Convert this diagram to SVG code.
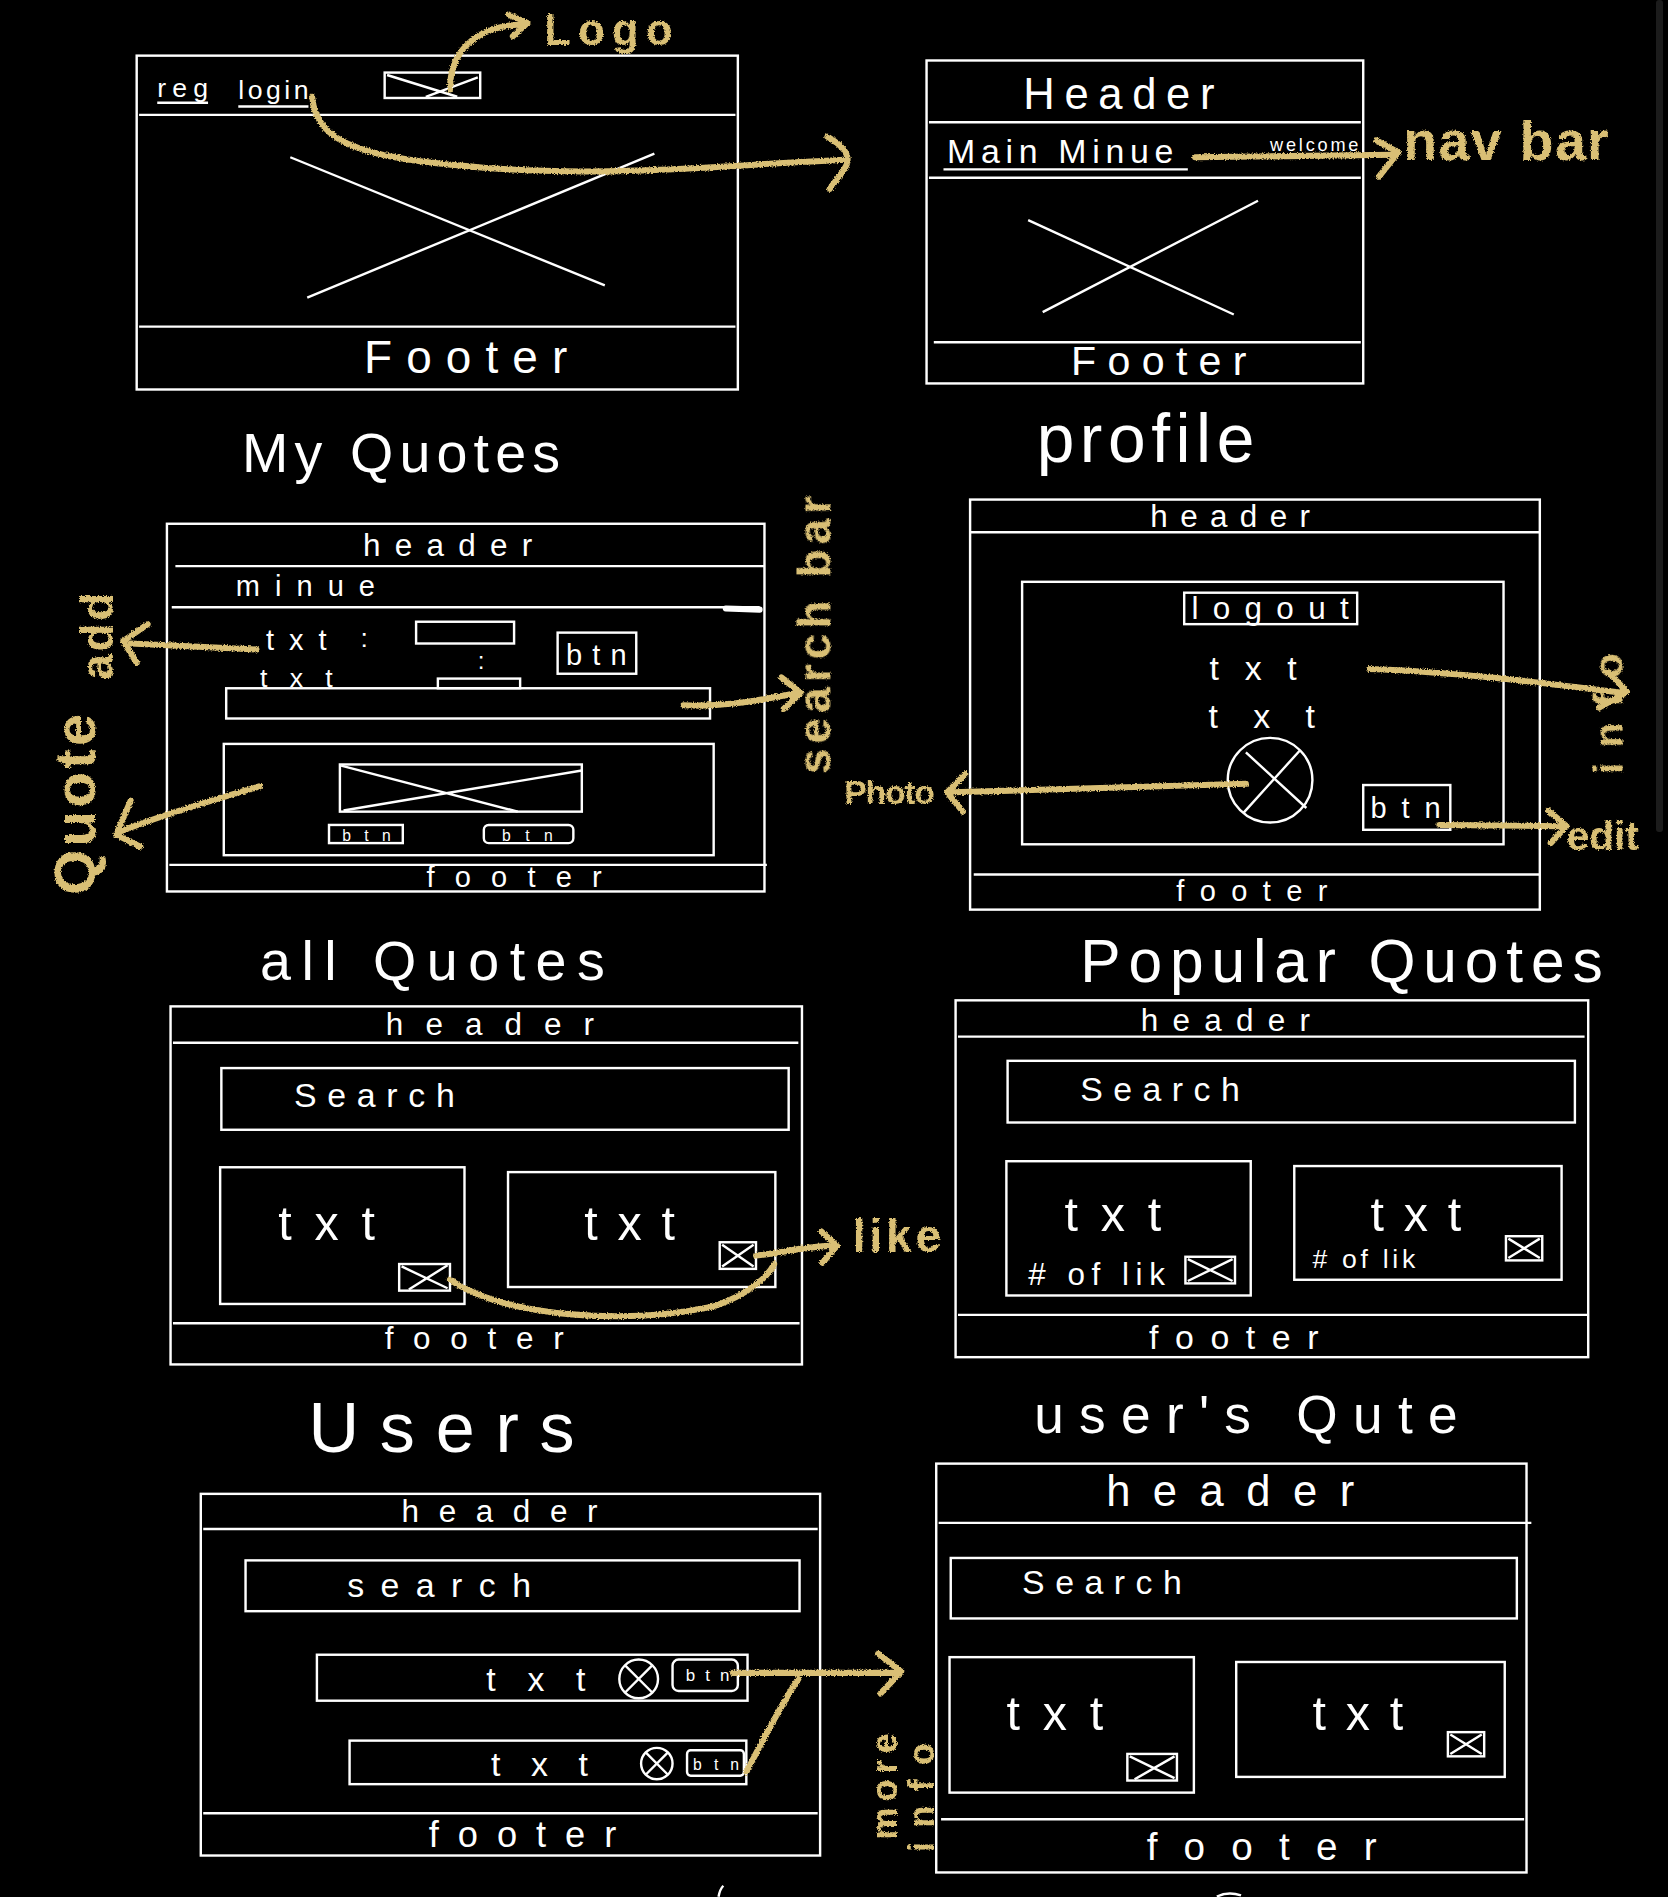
<svg xmlns="http://www.w3.org/2000/svg" width="1668" height="1897" viewBox="0 0 1668 1897">
<defs>
<filter id="chalk" x="-5%" y="-5%" width="110%" height="110%">
<feTurbulence type="fractalNoise" baseFrequency="0.9" numOctaves="2" seed="3" result="n"/>
<feDisplacementMap in="SourceGraphic" in2="n" scale="3" xChannelSelector="R" yChannelSelector="G"/>
</filter>
</defs>
<style>
.w{fill:none;stroke:#fff;stroke-width:2}
.t{fill:#fff;font-family:"Liberation Sans",Arial,sans-serif;font-weight:normal}
.m{text-anchor:middle}
.g{fill:none;stroke:#d9bf74;stroke-width:5;stroke-linecap:round;stroke-linejoin:round}
.gt{fill:#d9bf74;font-family:"Liberation Sans",Arial,sans-serif;font-weight:bold}
.r{text-anchor:middle;dominant-baseline:central}
</style>
<rect width="1668" height="1897" fill="#000"/>
<rect x="1656" y="0" width="7" height="832" rx="3" fill="#1c1c1c"/>
<g transform="scale(1.2096)">

<g id="home">
<rect class="w" x="113" y="46" width="497" height="276"/>
<line class="w" x1="115" y1="95" x2="608" y2="95"/>
<line class="w" x1="115" y1="270" x2="608" y2="270"/>
<text class="t" x="130" y="80" font-size="22" textLength="42">reg</text>
<line class="w" x1="130" y1="85" x2="172" y2="85"/>
<text class="t" x="197" y="82" font-size="22" textLength="58">login</text>
<line class="w" x1="197" y1="88" x2="255" y2="88"/>
<rect class="w" x="318" y="60" width="79" height="21"/>
<path class="w" d="M320,62 L378,80 M352,80 L395,64"/>
<path class="w" d="M240,130 L500,236 M254,246 L541,127"/>
<text class="t m" x="385" y="308" font-size="38" textLength="168">Footer</text>
</g>

<g id="dashboard">
<rect class="w" x="766" y="50" width="361" height="267"/>
<line class="w" x1="768" y1="101" x2="1125" y2="101"/>
<line class="w" x1="768" y1="147" x2="1125" y2="147"/>
<line class="w" x1="772" y1="283" x2="1125" y2="283"/>
<text class="t m" x="925" y="90" font-size="36" textLength="158">Header</text>
<text class="t" x="783" y="135" font-size="28" textLength="187">Main Minue</text>
<line class="w" x1="780" y1="140" x2="982" y2="140"/>
<text class="t" x="1050" y="125" font-size="15" textLength="73">welcome</text>
<path class="w" d="M850,182 L1020,260 M862,258 L1040,166"/>
<text class="t m" x="958" y="310" font-size="34" textLength="145">Footer</text>
</g>

<g id="titles">
<text class="t" x="200" y="390" font-size="46" textLength="263">My Quotes</text>
<text class="t" x="857" y="382" font-size="56" textLength="180">profile</text>
<text class="t" x="215" y="810" font-size="46" textLength="285">all Quotes</text>
<text class="t" x="893" y="812" font-size="50" textLength="432">Popular Quotes</text>
<text class="t" x="255" y="1200" font-size="58" textLength="220">Users</text>
<text class="t" x="855" y="1185" font-size="44" textLength="350">user's Qute</text>
</g>

<g id="my-quotes">
<rect class="w" x="138" y="433" width="494" height="304"/>
<line class="w" x1="145" y1="468" x2="632" y2="468"/>
<line class="w" x1="142" y1="502" x2="628" y2="502"/>
<line x1="600" y1="503" x2="628" y2="504" stroke="#fff" stroke-width="5" stroke-linecap="round"/>
<text class="t m" x="370" y="460" font-size="26" textLength="140">header</text>
<text class="t" x="195" y="493" font-size="24" textLength="115">minue</text>
<text class="t" x="220" y="537" font-size="24" textLength="50">txt</text>
<text class="t" x="298" y="535" font-size="22">:</text>
<rect class="w" x="344" y="514" width="81" height="18"/>
<text class="t" x="395" y="553" font-size="20">:</text>
<rect class="w" x="461" y="523" width="65" height="34"/>
<text class="t" x="468" y="550" font-size="24" textLength="50">btn</text>
<text class="t" x="215" y="568" font-size="22" textLength="60">txt</text>
<rect class="w" x="362" y="561" width="68" height="8"/>
<rect class="w" x="187" y="569" width="400" height="25"/>
<rect class="w" x="185" y="615" width="405" height="92"/>
<rect class="w" x="281" y="632" width="200" height="39"/>
<path class="w" d="M282,633 L428,671 M284,670 L481,637"/>
<rect class="w" x="272" y="682" width="61" height="15"/>
<text class="t" x="283" y="695" font-size="13" textLength="40">btn</text>
<rect class="w" x="400" y="682" width="74" height="15" rx="4"/>
<text class="t" x="415" y="695" font-size="13" textLength="42">btn</text>
<line class="w" x1="140" y1="715" x2="634" y2="715"/>
<text class="t m" x="425" y="733" font-size="24" textLength="145">footer</text>
</g>

<g id="profile">
<rect class="w" x="802" y="413" width="471" height="339"/>
<line class="w" x1="802" y1="440" x2="1273" y2="440"/>
<text class="t m" x="1017" y="436" font-size="26" textLength="132">header</text>
<rect class="w" x="845" y="481" width="398" height="217"/>
<rect class="w" x="979" y="490" width="143" height="26"/>
<text class="t m" x="1050" y="512" font-size="26" textLength="130">logout</text>
<text class="t m" x="1036" y="562" font-size="28" textLength="72">txt</text>
<text class="t m" x="1043" y="602" font-size="28" textLength="88">txt</text>
<circle class="w" cx="1050" cy="645" r="35"/>
<path class="w" d="M1075,620 L1028,672 M1030,622 L1080,668"/>
<rect class="w" x="1127" y="649" width="72" height="37"/>
<text class="t m" x="1162" y="676" font-size="24" textLength="58">btn</text>
<line class="w" x1="805" y1="723" x2="1273" y2="723"/>
<text class="t m" x="1035" y="745" font-size="24" textLength="125">footer</text>
</g>

<g id="all-quotes">
<rect class="w" x="141" y="832" width="522" height="296"/>
<line class="w" x1="143" y1="862" x2="660" y2="862"/>
<text class="t m" x="405" y="856" font-size="26" textLength="172">header</text>
<rect class="w" x="183" y="883" width="469" height="51"/>
<text class="t" x="243" y="915" font-size="28" textLength="133">Search</text>
<rect class="w" x="182" y="965" width="202" height="113"/>
<text class="t" x="230" y="1025" font-size="40" textLength="80">txt</text>
<rect class="w" x="330" y="1045" width="42" height="22"/>
<path class="w" d="M332,1047 L370,1065 M338,1066 L370,1046"/>
<rect class="w" x="420" y="969" width="221" height="95"/>
<text class="t" x="483" y="1025" font-size="40" textLength="75">txt</text>
<rect class="w" x="595" y="1027" width="30" height="22"/>
<path class="w" d="M597,1029 L623,1047 M597,1047 L623,1029"/>
<line class="w" x1="143" y1="1094" x2="661" y2="1094"/>
<text class="t m" x="392" y="1115" font-size="26" textLength="148">footer</text>
</g>

<g id="popular-quotes">
<rect class="w" x="790" y="827" width="523" height="295"/>
<line class="w" x1="792" y1="857" x2="1310" y2="857"/>
<text class="t m" x="1013" y="852" font-size="26" textLength="140">header</text>
<rect class="w" x="833" y="877" width="469" height="51"/>
<text class="t" x="893" y="910" font-size="28" textLength="132">Search</text>
<rect class="w" x="832" y="960" width="202" height="111"/>
<text class="t" x="880" y="1018" font-size="40" textLength="80">txt</text>
<text class="t" x="850" y="1062" font-size="26" textLength="113"># of lik</text>
<rect class="w" x="980" y="1039" width="41" height="22"/>
<path class="w" d="M982,1041 L1019,1059 M982,1059 L1019,1041"/>
<rect class="w" x="1070" y="964" width="221" height="94"/>
<text class="t" x="1133" y="1018" font-size="40" textLength="75">txt</text>
<text class="t" x="1085" y="1048" font-size="22" textLength="85"># of lik</text>
<rect class="w" x="1245" y="1022" width="30" height="20"/>
<path class="w" d="M1247,1024 L1273,1040 M1247,1040 L1273,1024"/>
<line class="w" x1="792" y1="1087" x2="1313" y2="1087"/>
<text class="t m" x="1020" y="1115" font-size="28" textLength="140">footer</text>
</g>

<g id="users">
<rect class="w" x="166" y="1235" width="512" height="299"/>
<line class="w" x1="168" y1="1264" x2="676" y2="1264"/>
<text class="t m" x="413" y="1258" font-size="26" textLength="162">header</text>
<rect class="w" x="203" y="1290" width="458" height="42"/>
<text class="t" x="287" y="1320" font-size="28" textLength="152">search</text>
<rect class="w" x="262" y="1368" width="356" height="38"/>
<text class="t" x="402" y="1398" font-size="28" textLength="82">txt</text>
<circle class="w" cx="528" cy="1388" r="16"/>
<path class="w" d="M517,1377 L539,1399 M539,1377 L517,1399"/>
<rect class="w" x="556" y="1372" width="54" height="26" rx="5"/>
<text class="t" x="567" y="1390" font-size="14" textLength="36">btn</text>
<rect class="w" x="289" y="1439" width="328" height="36"/>
<text class="t" x="406" y="1468" font-size="28" textLength="80">txt</text>
<circle class="w" cx="543" cy="1458" r="13"/>
<path class="w" d="M534,1449 L552,1467 M552,1449 L534,1467"/>
<rect class="w" x="568" y="1447" width="47" height="21" rx="3"/>
<text class="t" x="573" y="1463" font-size="13" textLength="38">btn</text>
<line class="w" x1="168" y1="1499" x2="676" y2="1499"/>
<text class="t m" x="432" y="1527" font-size="30" textLength="155">footer</text>
</g>

<g id="users-quote">
<rect class="w" x="774" y="1210" width="488" height="338"/>
<line class="w" x1="776" y1="1259" x2="1266" y2="1259"/>
<text class="t m" x="1017" y="1245" font-size="36" textLength="205">header</text>
<rect class="w" x="786" y="1288" width="468" height="50"/>
<text class="t" x="845" y="1318" font-size="28" textLength="132">Search</text>
<rect class="w" x="785" y="1370" width="202" height="112"/>
<text class="t" x="832" y="1430" font-size="40" textLength="80">txt</text>
<rect class="w" x="932" y="1450" width="41" height="22"/>
<path class="w" d="M934,1452 L971,1470 M938,1471 L971,1452"/>
<rect class="w" x="1022" y="1374" width="222" height="95"/>
<text class="t" x="1085" y="1430" font-size="40" textLength="75">txt</text>
<rect class="w" x="1197" y="1432" width="30" height="20"/>
<path class="w" d="M1199,1434 L1225,1450 M1199,1450 L1225,1434"/>
<line class="w" x1="778" y1="1504" x2="1260" y2="1504"/>
<text class="t m" x="1043" y="1538" font-size="32" textLength="190">footer</text>
</g>

<g id="edge-marks">
<path class="w" d="M594,1568 C595,1563 597,1560 598,1559"/>
<path class="w" d="M1006,1568 C1012,1565 1020,1565 1026,1567"/>
</g>

<g id="connectors" filter="url(#chalk)">
<path class="g" d="M372,74 C372,45 390,22 432,20"/>
<path class="g" d="M420,12 L436,19 L424,30"/>
<path class="g" d="M258,80 C262,120 300,132 420,140 C520,146 620,135 700,132"/>
<path class="g" d="M684,113 C696,120 703,128 700,136 C697,143 690,150 686,156"/>
<path class="g" d="M988,130 L1152,128"/>
<path class="g" d="M1138,116 L1156,126 L1140,146"/>
<path class="g" d="M212,537 L108,532"/>
<path class="g" d="M122,516 L102,530 L113,548"/>
<path class="g" d="M215,650 C170,663 130,675 98,688"/>
<path class="g" d="M108,662 L96,690 L116,700"/>
<path class="g" d="M565,583 C600,585 630,578 660,573"/>
<path class="g" d="M646,560 L662,573 L648,586"/>
<path class="g" d="M1030,648 L788,655"/>
<path class="g" d="M798,640 L783,655 L796,671"/>
<path class="g" d="M1132,553 C1200,555 1280,565 1343,573"/>
<path class="g" d="M1330,556 L1345,572 L1322,585"/>
<path class="g" d="M1190,682 L1290,683"/>
<path class="g" d="M1280,670 L1295,683 L1282,697"/>
<path class="g" d="M372,1058 C420,1090 520,1095 590,1080 C620,1070 635,1055 640,1045"/>
<path class="g" d="M625,1038 C650,1035 670,1030 688,1030"/>
<path class="g" d="M679,1018 L692,1030 L680,1044"/>
<path class="g" d="M606,1383 L742,1383"/>
<path class="g" d="M726,1367 L745,1382 L728,1400"/>
<path class="g" d="M617,1465 C630,1440 645,1410 660,1388"/>
</g>

<g id="labels" filter="url(#chalk)">
<text class="gt" x="450" y="37" font-size="36" textLength="106">Logo</text>
<text class="gt" x="1160" y="132" font-size="46" textLength="170">nav bar</text>
<text class="gt r" transform="translate(62,665) rotate(-90)" font-size="48" textLength="150">Quote</text>
<text class="gt r" transform="translate(80,526) rotate(-90)" font-size="38" textLength="72">add</text>
<text class="gt r" transform="translate(673,525) rotate(-90)" font-size="38" textLength="230">search bar</text>
<text class="gt" x="698" y="665" font-size="28" textLength="75">Photo</text>
<text class="gt r" transform="translate(1330,590) rotate(-90)" font-size="34" textLength="100">info</text>
<text class="gt" x="1295" y="703" font-size="34" textLength="60">edit</text>
<text class="gt" x="705" y="1035" font-size="38" textLength="73">like</text>
<text class="gt r" transform="translate(731,1477) rotate(-90)" font-size="30" textLength="88">more</text>
<text class="gt r" transform="translate(762,1486) rotate(-90)" font-size="30" textLength="90">info</text>
</g>
</g>
</svg>
